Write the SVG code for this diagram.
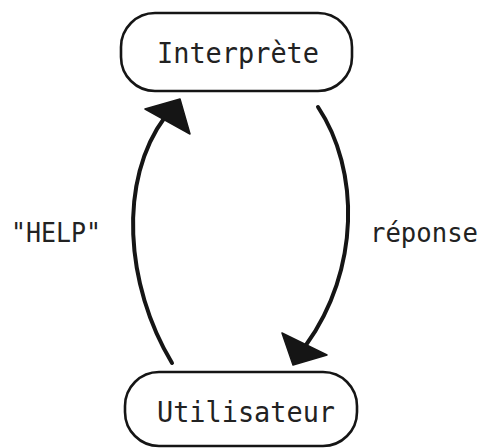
<svg xmlns="http://www.w3.org/2000/svg" width="486" height="448" viewBox="0 0 486 448">
<style>
.box{fill:#fff;stroke:#151515;stroke-width:2.6}
.lbl{font-family:"DejaVu Sans Mono","Liberation Mono",monospace;font-size:28px;fill:#222}
.elbl{font-family:"DejaVu Sans Mono","Liberation Mono",monospace;font-size:26px;fill:#222}
.arc{fill:none;stroke:#151515;stroke-width:4;stroke-linecap:round}
.head{fill:#151515;stroke:#151515;stroke-width:1.5;stroke-linejoin:round}
</style>
<rect width="486" height="448" fill="#fff"/>
<g id="interprete">
<rect class="box" x="121" y="13" width="231" height="78" rx="34"/>
<text class="lbl" x="157" y="63" textLength="162" lengthAdjust="spacingAndGlyphs">Interprète</text>
</g>
<g id="utilisateur">
<rect class="box" x="125" y="372" width="232" height="74" rx="34"/>
<text class="lbl" x="157" y="422" textLength="178" lengthAdjust="spacingAndGlyphs">Utilisateur</text>
</g>
<g id="connectors">
<path class="arc" d="M172,363 C125,285 118,180 165,117"/>
<polygon class="head" points="180,99 145,109 190,134"/>
<path class="arc" d="M318,107 C360,170 360,270 306,345"/>
<polygon class="head" points="293,365 282,333 327,355"/>
</g>
<g id="labels">
<text class="elbl" x="11" y="242" textLength="90" lengthAdjust="spacingAndGlyphs">"HELP"</text>
<text class="elbl" x="370" y="242" textLength="108" lengthAdjust="spacingAndGlyphs">réponse</text>
</g>
</svg>
